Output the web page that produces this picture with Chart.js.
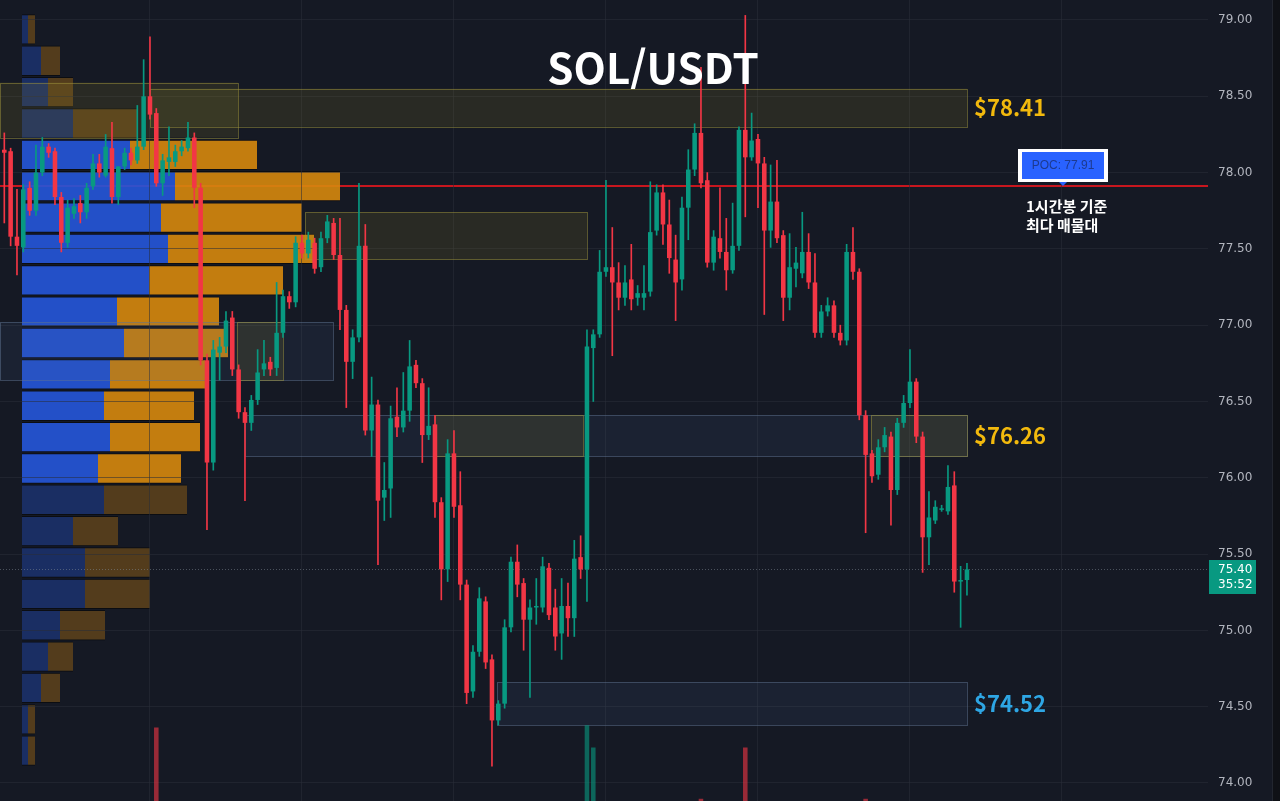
<!DOCTYPE html>
<html lang="ko">
<head>
<meta charset="utf-8">
<title>SOL/USDT</title>
<script src="https://cdn.jsdelivr.net/npm/chart.js@4.4.1/dist/chart.umd.min.js"></script>
<style>
    html, body { margin: 0; padding: 0; background: #151924; overflow: hidden; }
    #wrap { position: relative; width: 1280px; height: 801px; }
    #wrap canvas { position: absolute; left: 0; top: 0; }
    #edge { position: absolute; left: 1272px; top: 0; width: 8px; height: 801px;
            background: #0f1116; border-left: 1px solid #22262f; box-sizing: border-box; }
</style>
</head>
<body>
<div id="wrap">
    <canvas id="profile" width="1280" height="801"></canvas>
    <canvas id="price" width="1280" height="801"></canvas>
    <div id="edge"></div>
</div>
<script>
// SOL/USDT 1h candles (oldest -> newest)
var opens = [
    78.15, 78.14, 77.58, 77.51, 77.90, 77.75, 78.00, 78.17, 78.14, 77.84,
    77.54, 77.73, 77.80, 77.74, 77.91, 78.06, 77.98, 78.16, 77.84, 78.04,
    78.13, 78.08, 78.17, 78.50, 78.39, 77.93, 78.07, 78.07, 78.14, 78.16,
    78.23, 77.90, 76.77, 76.10, 76.82, 76.86, 77.05, 76.71, 76.43, 76.36,
    76.51, 76.71, 76.76, 76.72, 76.95, 77.19, 77.15, 77.54, 77.47, 77.54,
    77.38, 77.57, 77.67, 77.46, 77.10, 76.76, 76.92, 77.52, 76.31, 76.48,
    75.87, 75.93, 76.40, 76.33, 76.44, 76.74, 76.62, 76.28, 76.35, 75.84,
    75.40, 76.16, 75.82, 75.30, 74.60, 74.86, 75.19, 74.81, 74.41, 74.52,
    75.02, 75.45, 75.31, 75.07, 75.15, 75.15, 75.41, 75.15, 74.98, 75.16,
    75.08, 75.48, 75.40, 76.85, 76.94, 77.35, 77.38, 77.28, 77.18, 77.30,
    77.18, 77.18, 77.22, 77.62, 77.87, 77.66, 77.43, 77.30, 77.77, 78.02,
    78.26, 77.95, 77.41, 77.57, 77.48, 77.36, 77.52, 78.28, 78.10, 78.22,
    78.06, 77.62, 77.81, 77.59, 77.18, 77.37, 77.34, 77.48, 77.28, 76.95,
    77.09, 77.13, 76.95, 76.90, 77.48, 77.35, 76.41, 76.16, 76.02, 76.20,
    76.27, 75.92, 76.36, 76.49, 76.63, 76.27, 75.61, 75.72, 75.79, 75.78,
    75.95, 75.32, 75.33
];
var highs = [
    78.26, 78.16, 77.89, 77.92, 77.94, 78.18, 78.23, 78.19, 78.16, 77.87,
    77.82, 77.83, 77.85, 77.93, 78.12, 78.12, 78.25, 78.33, 78.04, 78.16,
    78.16, 78.44, 78.74, 78.89, 78.42, 78.12, 78.30, 78.18, 78.21, 78.33,
    78.26, 77.93, 76.81, 76.90, 76.92, 77.09, 77.09, 76.74, 76.46, 76.54,
    76.84, 76.90, 76.79, 77.28, 77.23, 77.22, 77.58, 77.59, 77.61, 77.57,
    77.61, 77.72, 77.70, 77.70, 77.13, 76.97, 77.93, 77.66, 76.66, 76.51,
    76.10, 76.47, 76.59, 76.69, 76.90, 76.77, 76.65, 76.59, 76.41, 75.87,
    76.25, 76.31, 76.04, 75.33, 74.90, 75.28, 75.22, 74.84, 74.54, 75.07,
    75.48, 75.56, 75.34, 75.20, 75.34, 75.48, 75.44, 75.27, 75.34, 75.31,
    75.59, 75.62, 76.97, 76.97, 77.49, 77.95, 77.64, 77.41, 77.39, 77.53,
    77.26, 77.39, 77.94, 77.92, 77.92, 77.82, 77.59, 77.84, 78.15, 78.32,
    78.69, 78.00, 77.62, 77.90, 77.70, 77.80, 78.30, 79.03, 78.39, 78.25,
    78.10, 78.05, 78.08, 77.62, 77.60, 77.51, 77.74, 77.60, 77.47, 77.13,
    77.18, 77.16, 77.00, 77.53, 77.64, 77.37, 76.44, 76.18, 76.25, 76.33,
    76.30, 76.39, 76.54, 76.84, 76.65, 76.30, 75.91, 75.85, 75.82, 76.08,
    76.04, 75.42, 75.44
];
var lows = [
    77.67, 77.52, 77.33, 77.48, 77.72, 77.72, 77.98, 78.10, 77.79, 77.48,
    77.51, 77.70, 77.67, 77.70, 77.89, 77.97, 77.97, 77.80, 77.79, 78.02,
    78.05, 78.06, 78.15, 78.35, 77.91, 77.85, 77.98, 78.04, 78.11, 78.14,
    77.77, 76.74, 75.66, 76.05, 76.64, 76.82, 76.67, 76.39, 75.85, 76.31,
    76.48, 76.67, 76.67, 76.67, 76.92, 77.11, 77.12, 77.44, 77.44, 77.34,
    77.35, 77.54, 77.43, 76.97, 76.46, 76.65, 76.89, 76.28, 76.14, 75.43,
    75.72, 75.74, 76.27, 76.30, 76.37, 76.59, 76.10, 76.25, 75.74, 75.20,
    75.32, 75.74, 75.20, 74.52, 74.56, 74.83, 74.75, 74.11, 74.38, 74.49,
    74.99, 75.22, 74.87, 74.56, 75.04, 75.12, 75.07, 74.87, 74.81, 74.96,
    74.96, 75.34, 75.19, 76.50, 76.92, 77.32, 76.80, 77.10, 77.13, 77.10,
    77.13, 77.10, 77.19, 77.59, 77.53, 77.34, 77.03, 77.23, 77.56, 77.98,
    77.90, 77.38, 77.36, 77.44, 77.23, 77.34, 77.49, 77.71, 78.08, 77.77,
    77.07, 77.51, 77.54, 77.03, 77.10, 77.25, 77.31, 77.24, 76.92, 76.92,
    77.06, 76.92, 76.87, 76.87, 77.30, 76.38, 75.64, 75.97, 75.99, 76.17,
    75.69, 75.89, 76.33, 76.46, 76.23, 75.38, 75.43, 75.70, 75.78, 75.76,
    75.25, 75.02, 75.23
];
var closes = [
    78.13, 77.58, 77.52, 77.89, 77.75, 78.00, 78.17, 78.13, 77.84, 77.54,
    77.77, 77.78, 77.74, 77.90, 78.06, 78.00, 78.17, 77.84, 78.04, 78.13,
    78.08, 78.17, 78.50, 78.38, 77.93, 78.08, 78.10, 78.14, 78.17, 78.23,
    77.90, 76.77, 76.10, 76.84, 76.86, 77.03, 76.71, 76.43, 76.36, 76.51,
    76.69, 76.75, 76.71, 76.95, 77.19, 77.15, 77.54, 77.47, 77.56, 77.37,
    77.57, 77.68, 77.46, 77.10, 76.76, 76.92, 77.52, 76.31, 76.48, 75.85,
    75.92, 76.39, 76.33, 76.44, 76.73, 76.62, 76.28, 76.34, 75.84, 75.40,
    76.16, 75.81, 75.30, 74.59, 74.86, 75.21, 74.79, 74.41, 74.52, 75.02,
    75.45, 75.30, 75.07, 75.15, 75.16, 75.42, 75.10, 74.96, 75.16, 75.08,
    75.47, 75.40, 76.86, 76.94, 77.35, 77.38, 77.28, 77.18, 77.28, 77.17,
    77.21, 77.21, 77.61, 77.87, 77.66, 77.44, 77.28, 77.77, 78.02, 78.26,
    77.93, 77.41, 77.58, 77.48, 77.36, 77.52, 78.28, 78.10, 78.21, 78.06,
    77.62, 77.81, 77.57, 77.18, 77.38, 77.41, 77.48, 77.28, 76.95, 77.09,
    77.13, 76.95, 76.90, 77.48, 77.35, 76.41, 76.15, 76.01, 76.20, 76.28,
    75.92, 76.36, 76.49, 76.63, 76.27, 75.61, 75.74, 75.81, 75.80, 75.94,
    75.32, 75.33, 75.40
];
var volumes = [
    22, 30, 24, 26, 18, 24, 22, 14, 20, 26,
    22, 14, 16, 18, 20, 14, 22, 30, 20, 15,
    12, 24, 36, 38, 73, 24, 20, 16, 14, 18,
    30, 38, 39, 37, 20, 22, 26, 24, 28, 18,
    22, 16, 14, 26, 22, 14, 28, 16, 18, 20,
    20, 18, 20, 28, 32, 22, 37, 39, 28, 34,
    24, 30, 18, 20, 24, 14, 26, 18, 30, 34,
    36, 30, 34, 37, 26, 28, 26, 36, 18, 30,
    28, 20, 24, 22, 14, 22, 20, 18, 20, 16,
    26, 18, 74, 64, 34, 30, 28, 18, 16, 20,
    12, 16, 32, 26, 22, 24, 24, 28, 26, 30,
    41, 34, 22, 20, 22, 24, 38, 64, 26, 20,
    34, 26, 24, 32, 24, 14, 22, 24, 30, 18,
    14, 20, 16, 32, 24, 38, 41, 20, 20, 16,
    28, 30, 20, 28, 26, 36, 26, 14, 12, 22,
    34, 22, 8
];
// hour number of each candle, day boundaries every 24h
var hours = opens.map(function (o, i) { return i + 1; });
var dayStarts = [24, 48, 72, 96, 120, 144, 168];
var priceTicks = [74.0, 74.5, 75.0, 75.5, 76.0, 76.5, 77.0, 77.5, 78.0, 78.5, 79.0];

// volume profile rows (top -> bottom)
var profilePrices = [78.938, 78.733, 78.527, 78.322, 78.116, 77.911, 77.705, 77.500,
    77.294, 77.089, 76.883, 76.678, 76.472, 76.267, 76.061, 75.856,
    75.650, 75.445, 75.239, 75.034, 74.828, 74.623, 74.417, 74.212];
var profileBuy = [6, 19, 26, 51, 108, 153, 139, 146, 127, 95, 102, 88,
    82, 88, 76, 82, 51, 63, 63, 38, 26, 19, 6, 6];
var profileSell = [7, 19, 25, 64, 127, 165, 141, 146, 134, 102, 104, 95,
    90, 90, 83, 83, 45, 65, 65, 45, 25, 19, 7, 7];
var valueAreaHigh = 78.2;
var valueAreaLow = 76.0;
var pocPrice = 77.91;

// zones: hour range and price range
var zoneStart = [0, 39, 78.8, 0, 24, 48.5, 37.7, 69, 137.8];
var zoneEnd = [52.9, 153, 153, 37.9, 153, 93, 45, 92.4, 153];
var zoneLow = [76.64, 76.14, 74.38, 78.23, 78.30, 77.43, 76.64, 76.14, 76.14];
var zoneHigh = [77.02, 76.41, 74.66, 78.59, 78.55, 77.74, 77.02, 76.41, 76.41];
var zoneType = ['demand', 'demand', 'demand', 'supply', 'supply', 'supply', 'supply', 'supply', 'supply'];
var zoneLabel = ['', '$76.26', '$74.52', '', '$78.41', '', '', '', ''];

var countdown = '35:52';

var yMin = 73.882, yMax = 79.131;
var xMin = 0.32, xMax = 191.06;

var upColor = '#089981';
var downColor = '#f23645';
var gridColor = 'rgba(42, 46, 57, 0.55)';

function candleColor(ctx) {
    var i = ctx.dataIndex;
    return closes[i] >= opens[i] ? upColor : downColor;
}
function volumeColor(ctx) {
    var i = ctx.dataIndex;
    return closes[i] >= opens[i] ? 'rgba(8, 153, 129, 0.6)' : 'rgba(242, 54, 69, 0.6)';
}
function inValueArea(i) {
    return profilePrices[i] <= valueAreaHigh && profilePrices[i] >= valueAreaLow;
}

var zoneStyles = {
    supply: { fill: 'rgba(160, 150, 45, 0.14)', border: 'rgba(160, 150, 60, 0.5)' },
    demand: { fill: 'rgba(80, 110, 160, 0.11)', border: 'rgba(95, 115, 145, 0.5)' }
};
var labelColors = { '$78.41': '#f2b90d', '$76.26': '#f2b90d', '$74.52': '#2ea6e4' };

var pocLinePlugin = {
    id: 'pocLine',
    beforeDatasetsDraw: function (chart) {
        var ctx = chart.ctx;
        var y = Math.round(chart.scales.y.getPixelForValue(pocPrice));
        ctx.save();
        ctx.strokeStyle = '#c8161e';
        ctx.lineWidth = 2;
        ctx.beginPath();
        ctx.moveTo(0, y);
        ctx.lineTo(chart.chartArea.right, y);
        ctx.stroke();
        ctx.restore();
    }
};

var overlayPlugin = {
    id: 'overlay',
    beforeDatasetsDraw: function (chart) {
        var ctx = chart.ctx, xs = chart.scales.x, ys = chart.scales.y, area = chart.chartArea;
        ctx.save();
        ctx.beginPath();
        ctx.rect(area.left, area.top, area.right - area.left, area.bottom - area.top);
        ctx.clip();
        for (var i = 0; i < zoneStart.length; i++) {
            var x1 = Math.max(area.left, xs.getPixelForValue(zoneStart[i]));
            var x2 = xs.getPixelForValue(zoneEnd[i]);
            var y1 = ys.getPixelForValue(zoneHigh[i]);
            var y2 = ys.getPixelForValue(zoneLow[i]);
            var st = zoneStyles[zoneType[i]];
            ctx.fillStyle = st.fill;
            ctx.fillRect(x1, y1, x2 - x1, y2 - y1);
            ctx.strokeStyle = st.border;
            ctx.lineWidth = 1;
            ctx.strokeRect(Math.round(x1) + 0.5, Math.round(y1) + 0.5, Math.round(x2 - x1), Math.round(y2 - y1));
        }
        // last price line
        var ly = Math.round(ys.getPixelForValue(closes[closes.length - 1])) + 0.5;
        ctx.strokeStyle = 'rgba(130, 140, 150, 0.5)';
        ctx.setLineDash([1, 2]);
        ctx.beginPath();
        ctx.moveTo(area.left, ly);
        ctx.lineTo(area.right, ly);
        ctx.stroke();
        ctx.restore();
    },
    afterDraw: function (chart) {
        var ctx = chart.ctx, xs = chart.scales.x, ys = chart.scales.y, area = chart.chartArea;
        ctx.save();

        // zone price labels
        ctx.font = 'bold 22px "Noto Sans CJK KR", "Noto Sans", sans-serif';
        ctx.textAlign = 'left';
        ctx.textBaseline = 'middle';
        for (var i = 0; i < zoneLabel.length; i++) {
            if (!zoneLabel[i]) continue;
            var lx = xs.getPixelForValue(zoneEnd[i]) + 7;
            var lyMid = ys.getPixelForValue((zoneHigh[i] + zoneLow[i]) / 2);
            ctx.fillStyle = labelColors[zoneLabel[i]];
            ctx.fillText(zoneLabel[i], lx, lyMid);
        }

        // POC tag
        var py = Math.round(ys.getPixelForValue(pocPrice));
        var cx = Math.round(xs.getPixelForValue(168.2));
        ctx.fillStyle = '#ffffff';
        ctx.fillRect(cx - 45, py - 37, 90, 33);
        ctx.fillStyle = '#2962ff';
        ctx.fillRect(cx - 41, py - 34, 82, 27);
        ctx.beginPath();
        ctx.moveTo(cx - 4, py - 4);
        ctx.lineTo(cx + 4, py - 4);
        ctx.lineTo(cx, py);
        ctx.closePath();
        ctx.fill();
        ctx.fillStyle = '#1d3a8f';
        ctx.font = '12px "Liberation Sans", sans-serif';
        ctx.textAlign = 'center';
        ctx.fillText('POC: ' + pocPrice.toFixed(2), cx, py - 20);

        ctx.fillStyle = '#ffffff';
        ctx.font = 'bold 15px "Noto Sans CJK KR", sans-serif';
        ctx.textAlign = 'left';
        ctx.fillText('1시간봉 기준', cx - 37, py + 20);
        ctx.fillText('최다 매물대', cx - 37, py + 39);

        // last price tag on the axis
        var last = closes[closes.length - 1];
        var ty = Math.round(ys.getPixelForValue(last));
        ctx.fillStyle = upColor;
        ctx.fillRect(area.right + 1, ty - 9, 47, 34);
        ctx.fillStyle = '#ffffff';
        ctx.font = '12px "DejaVu Sans", sans-serif';
        ctx.fillText(last.toFixed(2), area.right + 10, ty + 1);
        ctx.fillText(countdown, area.right + 10, ty + 16);

        // title
        ctx.font = 'bold 42px "Noto Sans CJK KR", "Noto Sans", sans-serif';
        ctx.textAlign = 'center';
        ctx.textBaseline = 'alphabetic';
        ctx.fillText('SOL/USDT', 653, 84);
        ctx.restore();
    }
};

// volume profile (drawn underneath the price chart)
new Chart(document.getElementById('profile'), {
    type: 'bar',
    data: {
        labels: profilePrices,
        datasets: [
            {
                label: 'Buy',
                data: profileBuy,
                stack: 'vp',
                backgroundColor: function (ctx) {
                    return inValueArea(ctx.dataIndex) ? 'rgba(37, 86, 218, 0.9)' : 'rgba(37, 86, 218, 0.35)';
                },
                borderColor: '#0b0d12',
                borderWidth: { top: 1, bottom: 1, left: 0, right: 0 },
                borderSkipped: false
            },
            {
                label: 'Sell',
                data: profileSell,
                stack: 'vp',
                backgroundColor: function (ctx) {
                    return inValueArea(ctx.dataIndex) ? 'rgba(214, 136, 13, 0.9)' : 'rgba(214, 136, 13, 0.32)';
                },
                borderColor: '#0b0d12',
                borderWidth: { top: 1, bottom: 1, left: 0, right: 0 },
                borderSkipped: false
            }
        ]
    },
    options: {
        indexAxis: 'y',
        responsive: false,
        animation: false,
        layout: { padding: { left: 22, right: 72, top: 0, bottom: 0 } },
        datasets: { bar: { barPercentage: 0.97, categoryPercentage: 1 } },
        plugins: { legend: { display: false }, tooltip: { enabled: false } },
        scales: {
            x: { type: 'linear', display: false, stacked: true, offset: false, min: 0, max: 1186 },
            y: {
                type: 'linear', display: false, offset: false, min: yMin, max: yMax,
                ticks: { includeBounds: false, stepSize: 0.5 },
                afterBuildTicks: function (s) { s.ticks = priceTicks.map(function (v) { return { value: v }; }); }
            }
        }
    },
    plugins: [pocLinePlugin]
});

// candles + volume
new Chart(document.getElementById('price'), {
    type: 'bar',
    data: {
        labels: hours,
        datasets: [
            {
                label: 'Body',
                data: opens.map(function (o, i) { return [o, closes[i]]; }),
                backgroundColor: candleColor,
                grouped: false,
                barPercentage: 0.72,
                categoryPercentage: 1,
                minBarLength: 1
            },
            {
                label: 'Wick',
                data: lows.map(function (l, i) { return [l, highs[i]]; }),
                backgroundColor: candleColor,
                grouped: false,
                barThickness: 1
            },
            {
                label: 'Volume',
                data: volumes,
                yAxisID: 'yv',
                backgroundColor: volumeColor,
                grouped: false,
                barPercentage: 0.72,
                categoryPercentage: 1
            }
        ]
    },
    options: {
        responsive: false,
        animation: false,
        layout: { padding: 0 },
        plugins: { legend: { display: false }, tooltip: { enabled: false } },
        scales: {
            x: {
                type: 'linear', offset: false, min: xMin, max: xMax,
                afterBuildTicks: function (s) { s.ticks = dayStarts.map(function (v) { return { value: v }; }); },
                ticks: { display: false },
                grid: { color: gridColor, drawTicks: false, offset: false },
                border: { display: false },
                afterFit: function (s) { s.height = 0; s.paddingLeft = 0; s.paddingRight = 0; }
            },
            y: {
                type: 'linear', position: 'right', min: yMin, max: yMax,
                afterBuildTicks: function (s) { s.ticks = priceTicks.map(function (v) { return { value: v }; }); },
                ticks: {
                    color: '#b2b5be',
                    padding: 10,
                    font: { family: '"DejaVu Sans", sans-serif', size: 12 },
                    callback: function (v) { return Number(v).toFixed(2); }
                },
                grid: { color: gridColor, drawTicks: false },
                border: { display: false },
                afterFit: function (s) { s.width = 72; s.paddingTop = 0; s.paddingBottom = 0; }
            },
            yv: { type: 'linear', display: false, min: 40, max: 400 }
        }
    },
    plugins: [overlayPlugin]
});
</script>
</body>
</html>
